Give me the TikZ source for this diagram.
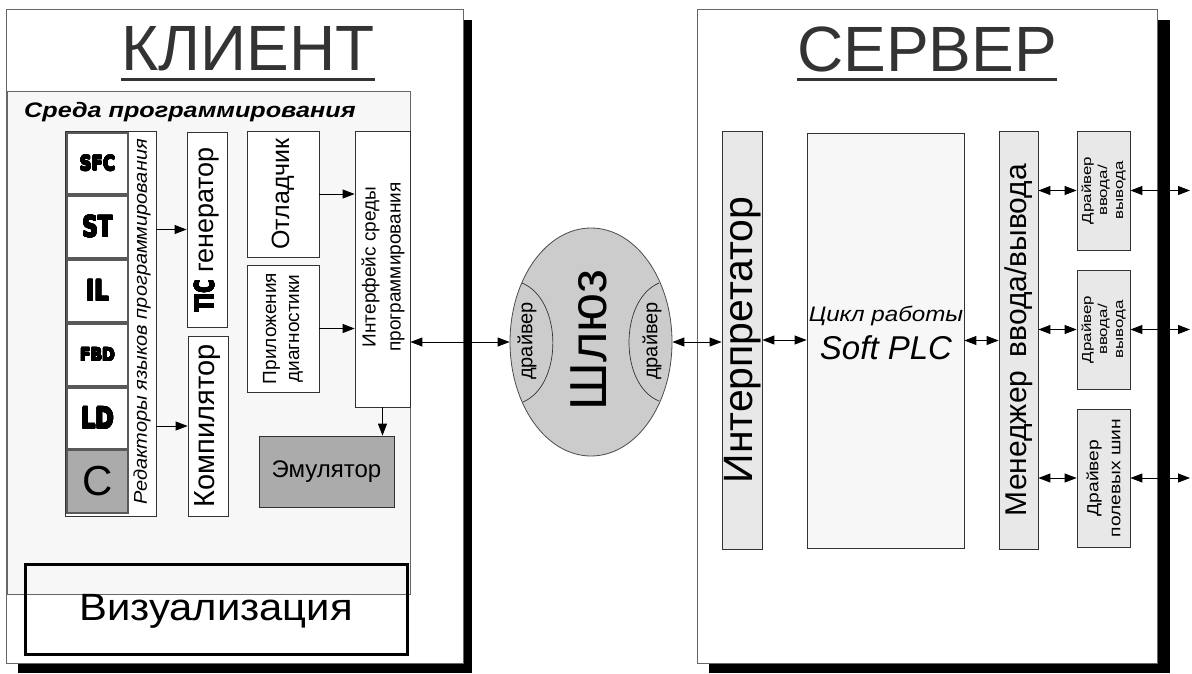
\documentclass[tikz,border=0pt]{standalone}
\usepackage{fontspec}
\usepackage{graphicx}
\usepackage[copies]{contour}
\setmainfont{Liberation Sans}
\newfontfamily\heavyfont{DejaVu Sans Condensed Bold}
\usetikzlibrary{arrows.meta,shapes.geometric}

% stretch text along its own direction
\newcommand{\sx}[2]{\scalebox{#1}[1]{#2}}
\newcommand{\fs}[2]{\fontsize{#1}{#2}\selectfont}
% extra heavy lettering for the language names: \heavy{outline width}{text}
\contournumber{24}
\newcommand{\heavy}[2]{\contourlength{#1}\contour{black}{#2}}

\begin{document}
\begin{tikzpicture}[x=1pt,y=-1pt,
  frame/.style={draw=black!60, fill=white, line width=1pt, inner sep=0pt},
  blk/.style={draw=black!80, line width=0.8pt, inner sep=0pt, fill=white},
  lblk/.style={blk, fill=black!9},
  dblk/.style={blk, fill=black!33},
  langblk/.style={blk, draw=black!65, line width=1.2pt, minimum width=61pt},
  lbl/.style={inner sep=0pt, align=center},
  vlbl/.style={lbl, rotate=90},
  title/.style={lbl, text=black!80, font=\fs{64}{64}},
  uline/.style={line width=3pt, black!80},
  tip/.tip={Triangle[length=12pt,width=9pt]},
  conn/.style={line width=0.9pt, -tip},
  dconn/.style={line width=0.9pt, tip-tip},
  ]
\useasboundingbox (0,0) rectangle (1192,673);

% drop shadows of the two main frames
\fill[black] (18,20) rectangle (472,673);
\fill[black] (709,20) rectangle (1170,673);

% ---------------- client ----------------
\node[frame, minimum width=457pt, minimum height=654pt] (client) at (234.5,336) {};
\node[title] (ctitle) at (248,49) {КЛИЕНТ};
\draw[uline] ([yshift=-8pt]ctitle.south west) -- ([yshift=-8pt]ctitle.south east);

\node[frame, fill=black!3, minimum width=403pt, minimum height=503pt] (env) at (208.5,342.5) {};
\node[lbl, anchor=base west, font=\bfseries\itshape\fs{21}{21}] (envtitle) at (24,117)
  {\sx{1.2}{Среда программирования}};

% language editors
\node[blk, minimum width=91pt, minimum height=385pt] (editors) at (110.5,323.5) {};
\node[langblk, minimum height=61pt] (sfc) at (97.5,163.5) {};
\node[langblk, minimum height=62pt] (st)  at (97.5,227) {};
\node[langblk, minimum height=62pt] (il)  at (97.5,291) {};
\node[langblk, minimum height=62pt] (fbd) at (97.5,355) {};
\node[langblk, minimum height=61pt] (ld)  at (97.5,418.5) {};
\node[langblk, fill=black!33, minimum height=63pt] (cl) at (97.5,481.5) {};
\node[lbl, font=\heavyfont\fs{20}{20}] at (sfc) {\sx{0.92}{\heavy{0.55pt}{SFC}}};
\node[lbl, font=\heavyfont\fs{29}{29}] at (st)  {\sx{0.82}{\heavy{0.8pt}{ST}}};
\node[lbl, font=\heavyfont\fs{29}{29}] at (il)  {\sx{0.85}{\heavy{0.8pt}{IL}}};
\node[lbl, font=\heavyfont\fs{18}{18}] at (fbd) {\sx{0.94}{\heavy{0.55pt}{FBD}}};
\node[lbl, font=\heavyfont\fs{29}{29}] at (ld)  {\sx{0.85}{\heavy{0.8pt}{LD}}};
\node[lbl, font=\fs{42}{42}] at (cl) {C};
\node[vlbl, font=\itshape\fs{18.5}{18.5}] (edtext) at (142,322)
  {\sx{1.08}{Редакторы языков программирования}};

% generators, debugger, diagnostics
\node[blk, minimum width=40pt, minimum height=195pt] (tic) at (207,229.5) {};
\node[vlbl, font=\fs{27}{27}] at (tic) {{\heavyfont\fs{26}{26}\sx{0.76}{\heavy{0.65pt}{TIC}}} генератор};
\node[blk, minimum width=40pt, minimum height=180pt] (comp) at (208,426) {};
\node[vlbl, font=\fs{29}{29}] at (comp) {Компилятор};
\node[blk, minimum width=72pt, minimum height=126pt] (dbg) at (283,194) {};
\node[vlbl, font=\fs{25}{25}] at (dbg) {Отладчик};
\node[blk, minimum width=72pt, minimum height=127pt] (diag) at (283,328.5) {};
\node[vlbl, font=\fs{19}{23}] at (diag) {Приложения\\диагностики};
\node[blk, minimum width=55pt, minimum height=276pt] (iface) at (382.5,269) {};
\node[vlbl, font=\fs{19}{25}] at (383,267) {Интерфейс среды\\программирования};
\node[dblk, minimum width=135pt, minimum height=71pt] (emu) at (326.5,471.5) {};
\node[lbl, font=\fs{24}{24}] at (emu) {Эмулятор};

\node[draw=black, line width=3pt, inner sep=0pt, minimum width=382pt, minimum height=90pt] (vis) at (216,609) {};
\node[lbl, font=\fs{38}{38}] at (216,611) {\sx{1.1}{Визуализация}};

\draw[conn] (editors.east |- tic.west) -- (tic.west);
\draw[conn] (editors.east |- comp.west) -- (comp.west);
\draw[conn] (dbg.east) -- (dbg.east -| iface.west);
\draw[conn] (diag.east) -- (diag.east -| iface.west);
\draw[conn] (iface.south) -- (iface.south |- emu.north);

% ---------------- gateway ----------------
\node[ellipse, draw=black!70, fill=black!20, line width=0.8pt, inner sep=0pt,
      minimum width=162pt, minimum height=228pt] (gw) at (591,342) {};
\draw[black!80, line width=0.7pt] (522,283) .. controls (563,300) and (563,385) .. (523,402);
\draw[black!80, line width=0.7pt] (659,283) .. controls (619,300) and (619,385) .. (659,401);
\node[vlbl, font=\fs{20}{20}] at (527,341) {драйвер};
\node[vlbl, font=\fs{20}{20}] at (652,341) {драйвер};
\node[vlbl, font=\fs{52}{52}] at (589,340) {Шлюз};

\draw[dconn] (iface.east |- gw.west) -- (gw.west);

% ---------------- server ----------------
\node[frame, minimum width=460pt, minimum height=654pt] (server) at (927,336) {};
\node[title] (stitle) at (927,49) {СЕРВЕР};
\draw[uline] ([yshift=-8pt]stitle.south west) -- ([yshift=-8pt]stitle.south east);

\node[lblk, minimum width=40pt, minimum height=418pt] (interp) at (742,340) {};
\node[vlbl, font=\fs{41}{41}] at (743,340) {Интерпретатор};
\node[blk, fill=black!3, minimum width=157pt, minimum height=415pt] (plc) at (885.5,340.5) {};
\node[lbl, font=\itshape\fs{21}{21}] at (886,316) {\sx{1.15}{Цикл работы}};
\node[lbl, font=\itshape\fs{33}{33}] at (886,348) {Soft PLC};
\node[lblk, minimum width=39pt, minimum height=418pt] (mgr) at (1018.5,340) {};
\node[vlbl, font=\fs{30}{30}] at (1019,340) {Менеджер\kern5pt\ ввода/вывода};

\node[lblk, minimum width=53pt, minimum height=119pt] (drv1) at (1103.5,190.5) {};
\node[lblk, minimum width=53pt, minimum height=119pt] (drv2) at (1103.5,329.5) {};
\node[lblk, minimum width=53pt, minimum height=138pt] (drv3) at (1103.5,478) {};
\node[vlbl, font=\fs{13}{16}] at (drv1) {\sx{1.3}{Драйвер}\\\sx{1.3}{ввода/}\\\sx{1.3}{вывода}};
\node[vlbl, font=\fs{13}{16}] at (drv2) {\sx{1.3}{Драйвер}\\\sx{1.3}{ввода/}\\\sx{1.3}{вывода}};
\node[vlbl, font=\fs{16}{22}] at (drv3) {\sx{1.2}{Драйвер}\\\sx{1.2}{полевых шин}};

\coordinate (busout) at (1190,0);

\draw[dconn] (gw.east) -- (gw.east -| interp.west);
\draw[dconn] (interp.east) -- (interp.east -| plc.west);
\draw[dconn] (plc.east) -- (plc.east -| mgr.west);
\draw[dconn] (mgr.east |- drv1.west) -- (drv1.west);
\draw[dconn] (mgr.east |- drv2.west) -- (drv2.west);
\draw[dconn] (mgr.east |- drv3.west) -- (drv3.west);
\draw[dconn] (drv1.east) -- (drv1.east -| busout);
\draw[dconn] (drv2.east) -- (drv2.east -| busout);
\draw[dconn] (drv3.east) -- (drv3.east -| busout);
\end{tikzpicture}
\end{document}
